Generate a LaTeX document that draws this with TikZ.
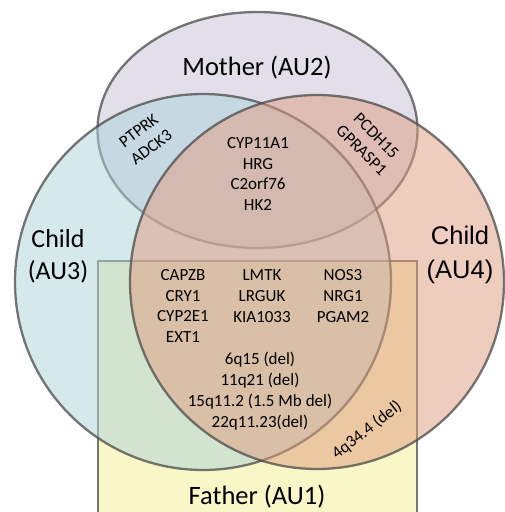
\documentclass[tikz,border=0pt]{standalone}
\usepackage{fontspec}
\setmainfont{Carlito}
\newfontfamily\arialfont{Liberation Sans}
\usepackage{xcolor}
\definecolor{fathercol}{HTML}{F5EE90}
\definecolor{mothercol}{HTML}{C7C1D9}
\definecolor{leftcol}{HTML}{ACD2DA}
\definecolor{rightcol}{HTML}{E09C7E}
\definecolor{edgecol}{HTML}{4A4A4A}

\begin{document}
\begin{tikzpicture}[x=1pt,y=-1pt,
    set/.style={draw=edgecol, line width=2.3pt, draw opacity=0.75, fill opacity=0.5},
    big/.style={font=\fontsize{26.5}{31}\selectfont, align=center},
    gene/.style={font=\fontsize{17}{20.8}\selectfont, align=center, inner sep=0pt}]
        \useasboundingbox (0,0) rectangle (504,512);
        % Sets
        \fill[white] (0,0) rectangle (504,512);
        \filldraw[set, fill=fathercol] (98,261) rectangle (417,530);
        \filldraw[set, fill=mothercol] (257.5,130) ellipse [x radius=160, y radius=118];
        \filldraw[set, fill=leftcol] (203,282) circle [radius=188];
        \filldraw[set, fill=rightcol] (317,282) circle [radius=187];
        
        % Set labels
        \node[big] (mother) at (257,68) {Mother (AU2)};
        \node[big] (father) at (257,497) {Father (AU1)};
        \node[big, font=\fontsize{26}{32}\selectfont] (au3) at (58,256) {Child\\(AU3)};
        \node[big, font=\arialfont\fontsize{25.5}{34}\selectfont] (au4) at (460,255) {Child\\(AU4)};
        
        % Gene lists
        \node[gene, rotate=37] (mc3) at (145,139) {PTPRK\\ADCK3};
        \node[gene, rotate=-45] (mc4) at (369,143) {PCDH15\\GPRASP1};
        \node[gene] (all3) at (258,174) {CYP11A1\\HRG\\C2orf76\\HK2};
        \node[gene] (colA) at (183,306) {CAPZB\\CRY1\\CYP2E1\\EXT1};
        \node[gene] (colB) at (262,296) {LMTK\\LRGUK\\KIA1033};
        \node[gene] (colC) at (343,296) {NOS3\\NRG1\\PGAM2};
        \node[gene] (dels) at (260,391) {6q15 (del)\\11q21 (del)\\15q11.2 (1.5 Mb del)\\22q11.23(del)};
        \node[gene, rotate=38] (fc4) at (367,430) {4q34.4 (del)};
    \end{tikzpicture}
\end{document}
